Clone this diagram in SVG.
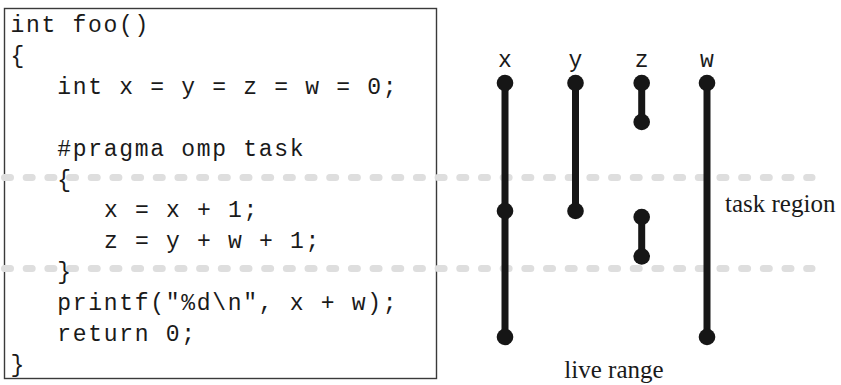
<svg xmlns="http://www.w3.org/2000/svg" width="841" height="385" viewBox="0 0 841 385">
  <style>
    .code { font-family: "Liberation Mono", "Courier New", monospace; font-size: 23px; letter-spacing: 1.7px; fill: #1a1a1a; }
    .var { font-family: "Liberation Mono", "Courier New", monospace; font-size: 23px; fill: #1a1a1a; text-anchor: middle; }
    .label { font-family: "Liberation Serif", "Times New Roman", serif; font-size: 25px; fill: #1a1a1a; }
    .region { stroke: #dedede; stroke-width: 7; stroke-linecap: round; stroke-dasharray: 6 15.68; fill: none; }
    .range { stroke: #161616; stroke-width: 7; fill: none; }
    .end { fill: #161616; }
  </style>

  <!-- code listing frame -->
  <g id="code-box">
    <rect x="4.5" y="8.5" width="432" height="370" fill="#fff" stroke="#3a3a3a" stroke-width="1.4"/>
  </g>

  <!-- task region boundaries -->
  <g id="task-region">
    <line class="region" x1="4.5" y1="177.5" x2="812" y2="177.5"/>
    <line class="region" x1="4.5" y1="268.5" x2="812" y2="268.5"/>
  </g>

  <!-- source code -->
  <g id="code">
    <text class="code" x="10.5" y="32">int foo()</text>
    <text class="code" x="10.5" y="62.9">{</text>
    <text class="code" x="57.3" y="93.8">int x = y = z = w = 0;</text>
    <text class="code" x="57.3" y="155.6">#pragma omp task</text>
    <text class="code" x="57.3" y="186.5">{</text>
    <text class="code" x="104.1" y="217">x = x + 1;</text>
    <text class="code" x="104.1" y="247.5">z = y + w + 1;</text>
    <text class="code" x="57.3" y="278.5">}</text>
    <text class="code" x="57.3" y="310">printf("%d\n", x + w);</text>
    <text class="code" x="57.3" y="341">return 0;</text>
    <text class="code" x="10.5" y="371.9">}</text>
  </g>

  <!-- variable live ranges -->
  <g id="range-x">
    <text class="var" x="505" y="67">x</text>
    <line class="range" x1="505" y1="83" x2="505" y2="337"/>
    <circle class="end" cx="505" cy="83" r="8.3"/>
    <circle class="end" cx="505" cy="211" r="8.3"/>
    <circle class="end" cx="505" cy="337" r="8.3"/>
  </g>
  <g id="range-y">
    <text class="var" x="575.5" y="67">y</text>
    <line class="range" x1="575.5" y1="83" x2="575.5" y2="211"/>
    <circle class="end" cx="575.5" cy="83" r="8.3"/>
    <circle class="end" cx="575.5" cy="211" r="8.3"/>
  </g>
  <g id="range-z">
    <text class="var" x="641.7" y="67">z</text>
    <line class="range" x1="641.7" y1="83" x2="641.7" y2="122"/>
    <circle class="end" cx="641.7" cy="83" r="8.3"/>
    <circle class="end" cx="641.7" cy="122" r="8.3"/>
    <line class="range" x1="641.7" y1="217" x2="641.7" y2="256.5"/>
    <circle class="end" cx="641.7" cy="217" r="8.3"/>
    <circle class="end" cx="641.7" cy="256.5" r="8.3"/>
  </g>
  <g id="range-w">
    <text class="var" x="707" y="67">w</text>
    <line class="range" x1="707" y1="83" x2="707" y2="337"/>
    <circle class="end" cx="707" cy="83" r="8.3"/>
    <circle class="end" cx="707" cy="337" r="8.3"/>
  </g>

  <!-- captions -->
  <text class="label" x="725" y="212">task region</text>
  <text class="label" x="614" y="378" text-anchor="middle">live range</text>
</svg>
